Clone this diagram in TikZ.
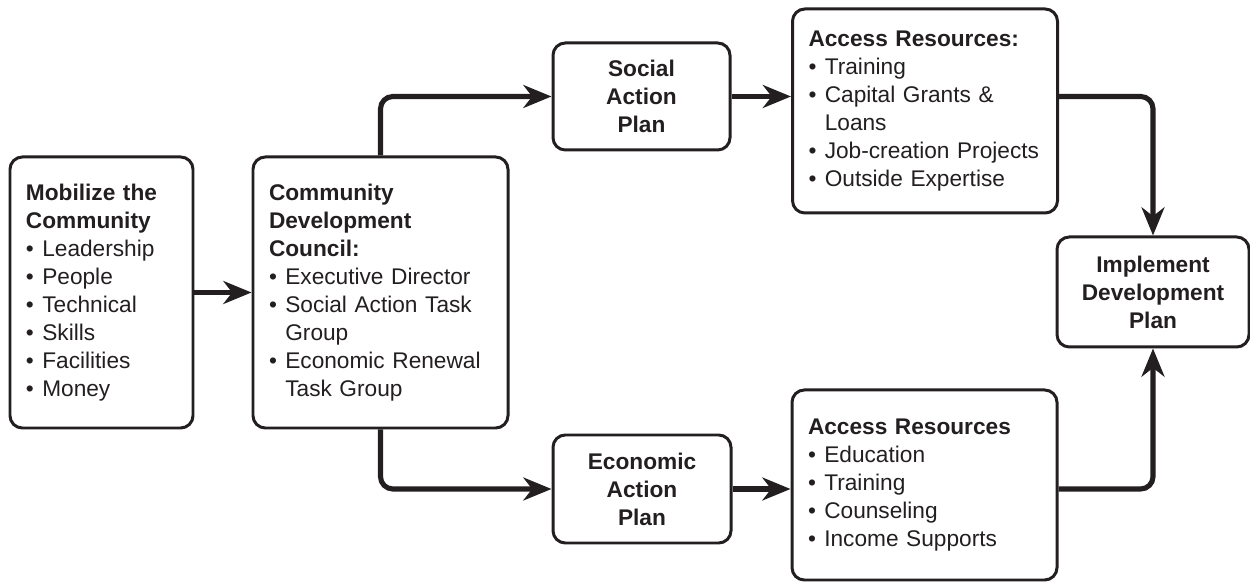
\documentclass[tikz,border=0pt]{standalone}
\usepackage{fontspec}
\setmainfont{Liberation Sans}
\usepackage{tikz}
\usetikzlibrary{arrows.meta,calc,positioning}
\definecolor{ink}{HTML}{231F20}
\newcommand{\bul}{\makebox[0.72em][l]{\textbullet}}
\newcommand{\ind}{\hspace*{0.72em}}

\begin{document}
\begin{tikzpicture}[>={Stealth[length=16pt,width=13pt,inset=5pt]},
  box/.style={draw=ink,line width=1.7pt,rounded corners=7pt,text=ink,
    inner xsep=0.32cm,font=\fontsize{12.9}{15.9}\selectfont},
  listbox/.style={box,align=left},
  planbox/.style={box,align=center,font=\fontsize{12.9}{15.9}\selectfont\bfseries},
  link/.style={->,draw=ink,line width=2.9pt,rounded corners=7pt}]
\useasboundingbox (0,0) rectangle (25,11.64);
% left column
\node[listbox,minimum width=3.66cm,minimum height=5.42cm,text width=3.02cm] (mob) at (2.03,5.79)
  {\textbf{Mobilize the}\\\textbf{Community}\\\bul Leadership\\\bul People\\\bul Technical\\\bul Skills\\\bul Facilities\\\bul Money};
\node[listbox,minimum width=5.10cm,minimum height=5.42cm,text width=4.46cm] (cdc) at (7.61,5.79)
  {\textbf{Community}\\\textbf{Development}\\\textbf{Council:}\\\bul Executive Director\\\bul Social Action Task\\\ind Group\\\bul Economic Renewal\\\ind Task Group};
% the two plans
\node[planbox,minimum width=3.54cm,minimum height=2.14cm] (sap) at (12.83,9.71) {Social\\Action\\Plan};
\node[planbox,minimum width=3.56cm,minimum height=2.16cm] (eap) at (12.84,1.86) {Economic\\Action\\Plan};
% resources
\node[listbox,minimum width=5.30cm,minimum height=4.08cm,text width=4.66cm] (res1) at (18.50,9.42)
  {\textbf{Access Resources:}\\\bul Training\\\bul Capital Grants \&\\\ind Loans\\\bul Job-creation Projects\\\bul Outside Expertise};
\node[listbox,minimum width=5.30cm,minimum height=3.80cm,text width=4.66cm] (res2) at (18.49,1.94)
  {\textbf{Access Resources}\\\bul Education\\\bul Training\\\bul Counseling\\\bul Income Supports};
\node[planbox,minimum width=3.84cm,minimum height=2.20cm] (imp) at (23.06,5.80) {Implement\\Development\\Plan};
% connectors
\draw[link] (mob) -- (cdc);
\draw[link] (cdc.north) |- (sap.west);
\draw[link] (cdc.south) |- (eap.west);
\draw[link] (sap.east) -- (sap.east -| res1.west);
\draw[link] (eap.east) -- (eap.east -| res2.west);
\draw[link] (res1.east |- sap.east) -| (imp.north);
\draw[link] (res2.east |- eap.east) -| (imp.south);
\end{tikzpicture}
\end{document}
